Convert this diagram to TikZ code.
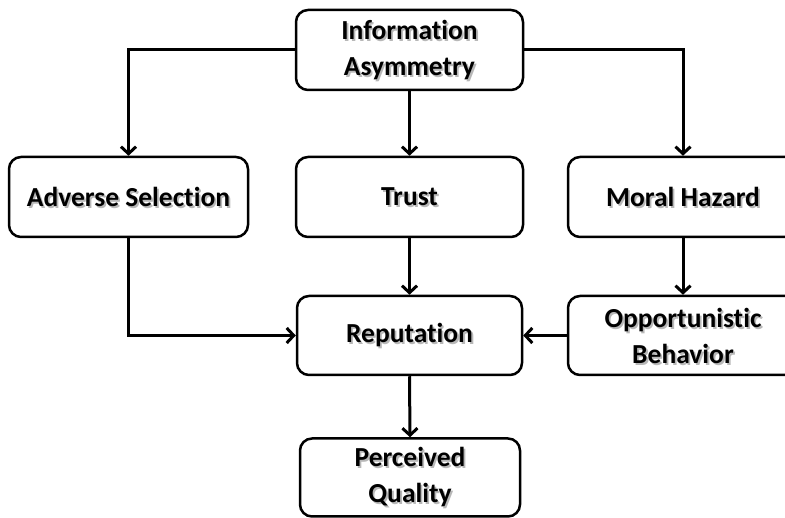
\documentclass[tikz,border=0pt]{standalone}
\usepackage{fontspec}
\setmainfont[Ligatures=CommonOff]{Carlito}
\usetikzlibrary{arrows.meta}
\newcommand\shd[1]{\makebox[0pt][l]{\hspace{1.8pt}\smash{\raisebox{-2pt}{\textcolor{black!28}{#1}}}}#1}
\tikzset{
  box/.style={draw, line width=2.5pt, rounded corners=12pt, align=center,
    font=\fontsize{27.5}{36}\selectfont\bfseries, inner sep=0pt},
  arr/.style={line width=3pt, -{Straight Barb[length=7pt,width=15pt,line width=3pt]}},
}
\begin{document}
\begin{tikzpicture}[x=1pt,y=1pt]
\useasboundingbox (0,0) rectangle (785,-518);
\clip (0,0) rectangle (785,-518);
\node[box, minimum width=227pt, minimum height=80pt] (info) at (409.5,-50) {\shd{Information}\\\shd{Asymmetry}};
\node[box, minimum width=239pt, minimum height=80pt] (adv) at (128.5,-197) {\shd{Adverse Selection}};
\node[box, minimum width=227pt, minimum height=80pt] (trust) at (409.5,-197) {\shd{Trust}};
\node[box, minimum width=230pt, minimum height=80pt] (moral) at (683,-197) {\shd{Moral Hazard}};
\node[box, minimum width=225pt, minimum height=79pt] (rep) at (409.5,-335.5) {\shd{Reputation}};
\node[box, minimum width=230pt, minimum height=79pt] (opp) at (683,-335.5) {\shd{Opportunistic}\\\shd{Behavior}};
\node[box, minimum width=220pt, minimum height=78pt] (perc) at (410,-477.5) {\shd{Perceived}\\\shd{Quality}};
\draw[arr] (info.west) -| (adv.north);
\draw[arr] (info.east) -| (moral.north);
\draw[arr] (info.south) -- (trust.north);
\draw[arr] (trust.south) -- (rep.north);
\draw[arr] (adv.south) |- (rep.west);
\draw[arr] (moral.south) -- (opp.north);
\draw[arr] (opp.west) -- (rep.east);
\draw[arr] (rep.south) -- (perc.north);
\end{tikzpicture}
\end{document}
